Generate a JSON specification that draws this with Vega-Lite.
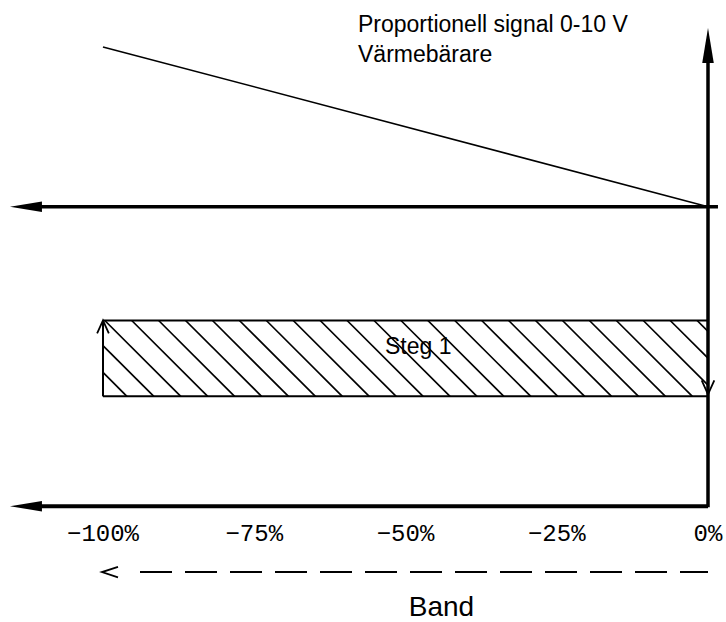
{
  "$schema": "https://vega.github.io/schema/vega-lite/v6.json",
  "width": 726,
  "height": 622,
  "autosize": {"type": "fit", "contains": "padding"},
  "padding": 0,
  "background": "white",
  "config": {"view": {"stroke": null}},
  "datasets": {
    "lines": [
      {"x": 0, "y": 508, "x2": 0, "y2": 55, "w": 3.5},
      {"x": 1.65, "y": 207, "x2": -112, "y2": 207, "w": 3.5},
      {"x": 0, "y": 507, "x2": -112.4, "y2": 507, "w": 4},
      {"x": -100, "y": 47, "x2": 0, "y2": 207, "w": 1.5},
      {"x": -100, "y": 321, "x2": 0, "y2": 321, "w": 2},
      {"x": -100, "y": 397, "x2": 0, "y2": 397, "w": 2},
      {"x": -100, "y": 397, "x2": -100, "y2": 323, "w": 2}
    ],
    "hatch": [
      {"x": -100, "y": 373.0, "x2": -96.04, "y2": 397},
      {"x": -100, "y": 346.1, "x2": -91.59, "y2": 397},
      {"x": -99.7, "y": 321, "x2": -87.14, "y2": 397},
      {"x": -95.25, "y": 321, "x2": -82.69, "y2": 397},
      {"x": -90.8, "y": 321, "x2": -78.24, "y2": 397},
      {"x": -86.35, "y": 321, "x2": -73.79, "y2": 397},
      {"x": -81.9, "y": 321, "x2": -69.34, "y2": 397},
      {"x": -77.45, "y": 321, "x2": -64.89, "y2": 397},
      {"x": -73.0, "y": 321, "x2": -60.44, "y2": 397},
      {"x": -68.55, "y": 321, "x2": -55.99, "y2": 397},
      {"x": -64.1, "y": 321, "x2": -51.54, "y2": 397},
      {"x": -59.65, "y": 321, "x2": -47.09, "y2": 397},
      {"x": -55.2, "y": 321, "x2": -42.64, "y2": 397},
      {"x": -50.75, "y": 321, "x2": -38.19, "y2": 397},
      {"x": -46.3, "y": 321, "x2": -33.74, "y2": 397},
      {"x": -41.85, "y": 321, "x2": -29.29, "y2": 397},
      {"x": -37.4, "y": 321, "x2": -24.84, "y2": 397},
      {"x": -32.95, "y": 321, "x2": -20.39, "y2": 397},
      {"x": -28.5, "y": 321, "x2": -15.94, "y2": 397},
      {"x": -24.05, "y": 321, "x2": -11.49, "y2": 397},
      {"x": -19.6, "y": 321, "x2": -7.04, "y2": 397},
      {"x": -15.15, "y": 321, "x2": -2.59, "y2": 397},
      {"x": -10.7, "y": 321, "x2": 0, "y2": 385.7},
      {"x": -6.25, "y": 321, "x2": 0, "y2": 358.8},
      {"x": -1.8, "y": 321, "x2": 0, "y2": 331.9}
    ],
    "dash": [{"x": -93.88, "y": 573, "x2": 0, "y2": 573}],
    "heads": [
      {"x": 0, "y": 45.5, "angle": 0, "size": 1225},
      {"x": -112.73, "y": 207, "angle": 270, "size": 1024},
      {"x": -112.73, "y": 507, "angle": 270, "size": 1024}
    ],
    "chevrons": [
      {"x": -100, "y": 327.5, "angle": 0, "size": 169},
      {"x": 0, "y": 388, "angle": 180, "size": 196}
    ],
    "bandArrow": [{"x": -98.84, "y": 573, "angle": 270, "size": 256}],
    "ticks": [
      {"x": -100, "y": 542, "label": "−100%"},
      {"x": -75, "y": 542, "label": "−75%"},
      {"x": -50, "y": 542, "label": "−50%"},
      {"x": -25, "y": 542, "label": "−25%"},
      {"x": 0, "y": 542, "label": "0%"}
    ],
    "titles": [
      {"x": -57.85, "y": 32.5, "label": "Proportionell signal 0-10 V"},
      {"x": -57.85, "y": 62, "label": "Värmebärare"}
    ],
    "centerText": [
      {"x": -47.9, "y": 355, "label": "Steg 1", "fs": 23},
      {"x": -44.05, "y": 617, "label": "Band", "fs": 28}
    ]
  },
  "encoding": {
    "x": {"field": "x", "type": "quantitative", "scale": {"domain": [-117.02, 2.975], "nice": false, "zero": false}, "axis": null},
    "y": {"field": "y", "type": "quantitative", "scale": {"domain": [0, 622], "reverse": true, "nice": false, "zero": false}, "axis": null}
  },
  "layer": [
    {
      "data": {"name": "hatch"},
      "mark": {"type": "rule", "color": "black", "strokeWidth": 1.7},
      "encoding": {"x2": {"field": "x2"}, "y2": {"field": "y2"}}
    },
    {
      "data": {"name": "lines"},
      "mark": {"type": "rule", "color": "black"},
      "encoding": {
        "x2": {"field": "x2"},
        "y2": {"field": "y2"},
        "strokeWidth": {"field": "w", "type": "quantitative", "scale": null}
      }
    },
    {
      "data": {"name": "dash"},
      "mark": {"type": "rule", "color": "black", "strokeWidth": 2, "strokeDash": [32, 13]},
      "encoding": {"x2": {"field": "x2"}, "y2": {"field": "y2"}}
    },
    {
      "data": {"name": "heads"},
      "mark": {"type": "point", "shape": "M0,-1L0.33,1L-0.33,1Z", "filled": true, "color": "black", "opacity": 1},
      "encoding": {
        "angle": {"field": "angle", "type": "quantitative", "scale": null},
        "size": {"field": "size", "type": "quantitative", "scale": null}
      }
    },
    {
      "data": {"name": "chevrons"},
      "mark": {"type": "point", "shape": "M-0.9,1L0,-1L0.9,1", "filled": false, "color": "black", "opacity": 1, "strokeWidth": 1.8},
      "encoding": {
        "angle": {"field": "angle", "type": "quantitative", "scale": null},
        "size": {"field": "size", "type": "quantitative", "scale": null}
      }
    },
    {
      "data": {"name": "bandArrow"},
      "mark": {"type": "point", "shape": "M-0.65,1L0,-1L0.65,1", "filled": false, "color": "black", "opacity": 1, "strokeWidth": 1.8},
      "encoding": {
        "angle": {"field": "angle", "type": "quantitative", "scale": null},
        "size": {"field": "size", "type": "quantitative", "scale": null}
      }
    },
    {
      "data": {"name": "ticks"},
      "mark": {"type": "text", "font": "Liberation Mono", "fontSize": 24, "align": "center", "baseline": "alphabetic", "color": "black"},
      "encoding": {"text": {"field": "label"}}
    },
    {
      "data": {"name": "titles"},
      "mark": {"type": "text", "font": "Liberation Sans", "fontSize": 23, "align": "left", "baseline": "alphabetic", "color": "black"},
      "encoding": {"text": {"field": "label"}}
    },
    {
      "data": {"name": "centerText"},
      "mark": {"type": "text", "font": "Liberation Sans", "align": "center", "baseline": "alphabetic", "color": "black"},
      "encoding": {
        "text": {"field": "label"},
        "size": {"field": "fs", "type": "quantitative", "scale": null}
      }
    }
  ]
}
